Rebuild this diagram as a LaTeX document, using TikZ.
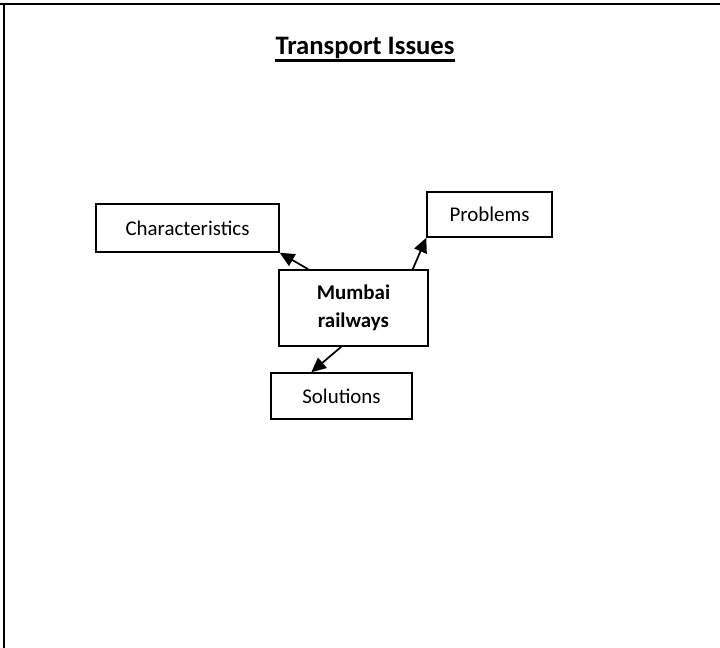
\documentclass[tikz,border=0pt]{standalone}
\usepackage{fontspec}
\setmainfont{Carlito}
\usetikzlibrary{arrows.meta}
\begin{document}
\begin{tikzpicture}[x=0.75pt,y=-0.75pt,
  box/.style={draw, line width=1.1pt, inner sep=0pt, font=\fontsize{15.7}{21}\selectfont, align=center},
  arr/.style={line width=1.3pt, -{Triangle[length=11pt,width=10pt]}},
  frame/.style={line width=2pt}]
\useasboundingbox (0,0) rectangle (720,648);
\coordinate (tl) at (4,4);
\coordinate (tr) at (720,4);
\coordinate (bl) at (4,648);
\draw[frame] (tr) -- (0,4);
\draw[frame] (tl) -- (bl);
\node[font=\fontsize{20}{24}\selectfont\bfseries, anchor=base, inner sep=0pt] (title) at (365,55) {Transport Issues};
\draw[line width=1.8pt] ([yshift=-0.8pt]title.south west) -- ([yshift=-0.8pt]title.south east);
\node[box, minimum width=137.25pt, minimum height=36pt] (char) at (187.5,228) {Characteristics};
\node[box, minimum width=93.75pt, minimum height=33.75pt] (prob) at (489.5,214.5) {Problems};
\node[box, minimum width=111.75pt, minimum height=57pt, font=\fontsize{15.7}{21}\selectfont\bfseries] (mum) at (353.5,308) {Mumbai\\railways};
\node[box, minimum width=105.75pt, minimum height=34.5pt] (sol) at (341.5,396) {Solutions};
\draw[arr] ([xshift=22.5pt]mum.north west) -- (char.south east);
\draw[arr] ([xshift=-12pt]mum.north east) -- (prob.south west);
\draw[arr] ([xshift=47.25pt]mum.south west) -- ([xshift=30.75pt]sol.north west);
\end{tikzpicture}
\end{document}
